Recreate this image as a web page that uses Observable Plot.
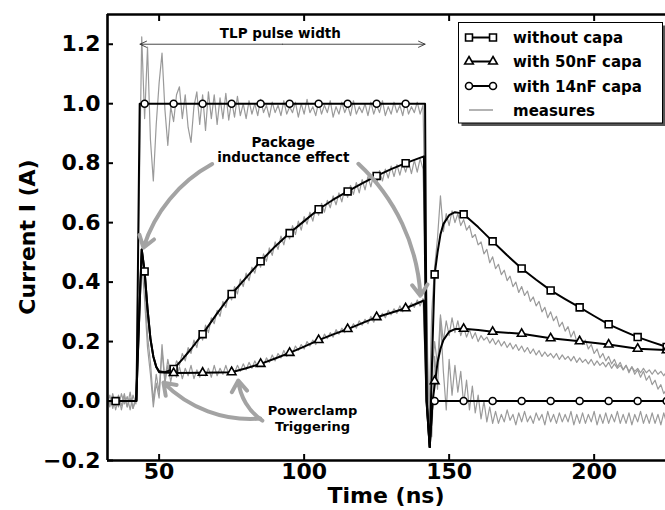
<!DOCTYPE html>
<html><head><meta charset="utf-8">
<script src="https://cdn.jsdelivr.net/npm/d3@7"></script>
<script src="https://cdn.jsdelivr.net/npm/@observablehq/plot@0.6"></script>
<style>
html,body{margin:0;padding:0;background:#fff;}
#chart{width:665px;height:510px;}
</style></head><body><div id="chart"></div>
<script>
// ---------- Data ----------
const seriesNames = ["without capa", "with 50nF capa", "with 14nF capa", "measures"];
const xTicks = [50, 100, 150, 200];
const yTicks = [-0.2, 0, 0.2, 0.4, 0.6, 0.8, 1.0, 1.2];

// simulation: without capa
const simNoCapT = [32, 42.1, 43.2, 44, 45, 46, 47, 48, 49, 50, 52, 55, 58, 61, 65, 70, 75, 80, 85, 90, 95, 100, 105, 110, 115, 120, 125, 130, 135, 141.3, 142.2, 143.3, 144.3, 145, 146, 147, 148, 150, 152, 154, 155, 160, 165, 170, 175, 180, 185, 190, 195, 200, 205, 210, 215, 220, 225];
const simNoCapV = [0, 0, 0.3, 0.51, 0.436, 0.31, 0.21, 0.15, 0.115, 0.1, 0.097, 0.108, 0.14, 0.175, 0.225, 0.295, 0.36, 0.415, 0.47, 0.52, 0.565, 0.605, 0.645, 0.677, 0.705, 0.732, 0.757, 0.78, 0.8, 0.823, 0.0, -0.155, 0.2, 0.426, 0.5, 0.56, 0.595, 0.625, 0.635, 0.632, 0.628, 0.585, 0.537, 0.49, 0.446, 0.408, 0.372, 0.343, 0.315, 0.286, 0.258, 0.236, 0.215, 0.198, 0.182];
const markNoCapT = [35, 45, 55, 65, 75, 85, 95, 105, 115, 125, 135, 145, 155, 165, 175, 185, 195, 205, 215, 225];
const markNoCapV = [0, 0.436, 0.108, 0.225, 0.36, 0.47, 0.565, 0.645, 0.705, 0.757, 0.8, 0.426, 0.628, 0.537, 0.446, 0.372, 0.315, 0.258, 0.215, 0.182];

// simulation: with 50nF capa
const sim50T = [32, 42.1, 43.2, 44, 45, 46, 47, 48, 49, 50, 55, 65, 75, 80, 85, 90, 95, 100, 105, 110, 115, 120, 125, 130, 135, 141.3, 142.2, 143.3, 144.3, 145.2, 146, 147, 148, 150, 152, 155, 160, 165, 175, 185, 195, 205, 215, 225];
const sim50V = [0, 0, 0.3, 0.51, 0.436, 0.31, 0.21, 0.15, 0.115, 0.097, 0.094, 0.095, 0.097, 0.11, 0.125, 0.143, 0.162, 0.183, 0.205, 0.224, 0.242, 0.262, 0.282, 0.297, 0.312, 0.338, 0.0, -0.155, 0.0, 0.067, 0.13, 0.175, 0.205, 0.233, 0.242, 0.243, 0.239, 0.233, 0.226, 0.211, 0.201, 0.19, 0.176, 0.171];
const mark50T = [55, 65, 75, 85, 95, 105, 115, 125, 135, 145, 155, 165, 175, 185, 195, 205, 215, 225];
const mark50V = [0.094, 0.095, 0.097, 0.125, 0.162, 0.205, 0.242, 0.282, 0.312, 0.067, 0.243, 0.233, 0.226, 0.211, 0.201, 0.19, 0.176, 0.171];

// simulation: with 14nF capa
const sim14T = [32, 42.2, 43.3, 141.7, 142.3, 143.3, 144.3, 225];
const sim14V = [0, 0, 1.0, 1.0, 0.0, -0.155, 0.0, 0];
const mark14T = [45, 55, 65, 75, 85, 95, 105, 115, 125, 135, 145, 155, 165, 175, 185, 195, 205, 215, 225];
const mark14V = [1, 1, 1, 1, 1, 1, 1, 1, 1, 1, 0, 0, 0, 0, 0, 0, 0, 0, 0];

// measurements, one sample per ns starting at 32 ns
const measStartT = 32;
const meas14 = [
  0.01, -0.02, 0.025, -0.015, 0.02, -0.03, 0.015, -0.02, 0.03, -0.025, 0.005,
  0.6, 1.225, 0.95, 1.19, 0.88, 0.74, 0.93, 1.07, 1.17, 0.98, 0.86, 0.99, 0.94, 1.03, 1.057, 0.95, 1.03, 0.92, 0.87, 0.99,
  1.04, 0.93, 1.03, 0.91, 1.04, 0.95, 1.03, 0.93, 1.02, 0.95, 1.035, 0.945, 1.01, 0.955, 1.025, 0.96, 1.0, 0.95,
  1.01, 0.965, 1.0, 0.96, 1.015, 0.97, 0.995, 0.955, 1.005, 0.97,
  0.995, 0.96, 1.01, 0.965, 0.99, 0.97, 1.005, 0.955, 1.0, 0.965,
  1.015, 0.97, 0.99, 0.96, 1.005, 0.965, 0.995, 0.97, 1.01, 0.955,
  0.99, 0.965, 1.005, 0.97, 0.995, 0.96, 1.01, 0.965, 0.99, 0.97,
  1.0, 0.96, 1.005, 0.965, 0.995, 0.97, 1.01, 0.96, 0.99, 0.965,
  1.005, 0.97, 0.995, 0.96, 1.01, 0.965, 0.99, 0.97, 1.005, 0.965,
  0.995,
  0.45, -0.05, -0.12, 0.15, 0.04, 0.28, 0.1, -0.03, 0.14, 0.02, 0.12, 0.03, 0.1, -0.01, 0.07, -0.03, 0.05, -0.04, 0.02, -0.06, 0.0, -0.07, -0.02, -0.075,
  -0.035, -0.075, -0.045, -0.07, -0.03, -0.065, -0.045, -0.08, -0.04, -0.07,
  -0.035, -0.07, -0.05, -0.075, -0.04, -0.065, -0.045, -0.08, -0.035, -0.07,
  -0.045, -0.075, -0.04, -0.07, -0.045, -0.07, -0.035, -0.08, -0.045, -0.075,
  -0.04, -0.075, -0.045, -0.07, -0.035, -0.08, -0.045, -0.075, -0.04, -0.075,
  -0.045, -0.07, -0.035, -0.075, -0.045, -0.075, -0.04, -0.08, -0.045, -0.07,
  -0.035, -0.075, -0.045, -0.075, -0.04, -0.075, -0.045, -0.08, -0.04, -0.075
];
const measNoCap = [
  -0.015, 0.02, -0.025, 0.01, -0.02, 0.025, -0.01, 0.015, -0.03, 0.02, -0.01,
  0.3, 0.5, 0.4, 0.22, 0.13, 0.0, 0.09, 0.03, 0.19, 0.07, 0.14, 0.09,
  0.095, 0.135, 0.12, 0.16, 0.135, 0.18, 0.16, 0.205, 0.18, 0.23,
  0.205, 0.255, 0.23, 0.28, 0.26, 0.305, 0.285, 0.335, 0.315, 0.36,
  0.34, 0.385, 0.36, 0.41, 0.385, 0.43, 0.405, 0.45, 0.43, 0.475,
  0.45, 0.495, 0.47, 0.515, 0.49, 0.535, 0.51, 0.555, 0.525, 0.57,
  0.545, 0.59, 0.56, 0.605, 0.575, 0.62, 0.595, 0.635, 0.605, 0.65,
  0.625, 0.665, 0.635, 0.675, 0.65, 0.69, 0.66, 0.7, 0.67, 0.715,
  0.685, 0.725, 0.695, 0.735, 0.7, 0.745, 0.71, 0.755, 0.72, 0.765,
  0.73, 0.775, 0.74, 0.78, 0.75, 0.79, 0.755, 0.795, 0.76, 0.8,
  0.77, 0.805, 0.765, 0.81, 0.77, 0.815, 0.78,
  0.35, -0.08, 0.3, 0.45, 0.55, 0.69, 0.57, 0.63, 0.59, 0.64, 0.6, 0.63, 0.59, 0.61,
  0.575, 0.59, 0.55, 0.56, 0.525, 0.535, 0.495, 0.51, 0.465, 0.485,
  0.445, 0.46, 0.425, 0.44, 0.405, 0.42, 0.385, 0.4, 0.365, 0.385,
  0.355, 0.37, 0.335, 0.35, 0.32, 0.335, 0.3, 0.315, 0.28, 0.3,
  0.27, 0.285, 0.25, 0.265, 0.235, 0.25, 0.215, 0.235, 0.2, 0.22,
  0.19, 0.205, 0.175, 0.19, 0.16, 0.175, 0.145, 0.16, 0.135, 0.15,
  0.125, 0.14, 0.115, 0.13, 0.105, 0.12, 0.095, 0.115, 0.09, 0.105,
  0.08, 0.1, 0.07, 0.085, 0.055, 0.07, 0.04, 0.055, 0.025, 0.04
];
const meas50 = [
  0.02, -0.01, 0.015, -0.03, 0.01, -0.015, 0.025, -0.02, 0.01, -0.025, 0.015,
  0.32, 0.47, 0.34, 0.18, 0.09, -0.02, 0.06, 0.01, 0.17, 0.06, 0.12, 0.065,
  0.11, 0.08, 0.115, 0.075, 0.11, 0.085, 0.12, 0.075, 0.105, 0.08,
  0.115, 0.085, 0.11, 0.08, 0.12, 0.085, 0.11, 0.09, 0.12, 0.09,
  0.115, 0.095, 0.12, 0.1, 0.125, 0.105, 0.13, 0.11, 0.135, 0.115,
  0.14, 0.12, 0.145, 0.13, 0.155, 0.135, 0.16, 0.145, 0.17, 0.15,
  0.175, 0.16, 0.185, 0.17, 0.19, 0.175, 0.2, 0.185, 0.205, 0.19,
  0.215, 0.2, 0.225, 0.21, 0.23, 0.215, 0.24, 0.225, 0.245, 0.23,
  0.255, 0.24, 0.26, 0.245, 0.27, 0.255, 0.275, 0.26, 0.285, 0.265,
  0.29, 0.275, 0.295, 0.28, 0.305, 0.29, 0.31, 0.295, 0.32, 0.3,
  0.325, 0.31, 0.33, 0.315, 0.34, 0.32, 0.345,
  0.05, -0.1, 0.08, 0.2, 0.12, 0.29, 0.2, 0.27, 0.22, 0.28, 0.23, 0.27, 0.22, 0.25,
  0.215, 0.24, 0.21, 0.23, 0.2, 0.22, 0.205, 0.215, 0.195, 0.21,
  0.19, 0.205, 0.185, 0.2, 0.18, 0.195, 0.175, 0.19, 0.17, 0.185,
  0.165, 0.18, 0.16, 0.175, 0.155, 0.17, 0.15, 0.165, 0.15, 0.16,
  0.145, 0.16, 0.14, 0.155, 0.14, 0.15, 0.135, 0.15, 0.13, 0.145,
  0.13, 0.14, 0.125, 0.14, 0.12, 0.135, 0.12, 0.13, 0.115, 0.13,
  0.11, 0.125, 0.11, 0.12, 0.105, 0.12, 0.1, 0.115, 0.1, 0.11,
  0.095, 0.11, 0.095, 0.105, 0.09, 0.105, 0.09, 0.1, 0.085, 0.1
];

// annotations
const pulseLabel = [{t: 91.8, v: 1.234, text: "TLP pulse width"}];
const pulseArrow = [{mid: 92.5, t1: 43.4, t2: 141.7, v: 1.2}];
const pkgLabel = [
  {t: 92.8, v: 0.87, text: "Package"},
  {t: 92.8, v: 0.818, text: "inductance effect"}
];
const pkgArrowLeft = [{t1: 68.3, v1: 0.797, t2: 44.6, v2: 0.516}];
const pkgArrowRight = [{t1: 118.7, v1: 0.798, t2: 140.1, v2: 0.354}];
const clampLabel = [
  {t: 102.9, v: -0.033, text: "Powerclamp"},
  {t: 102.9, v: -0.087, text: "Triggering"}
];
const clampArrows = [
  {t1: 84.9, v1: -0.059, t2: 51.5, v2: 0.062},
  {t1: 85.6, v1: -0.066, t2: 77.3, v2: 0.069}
];

// ---------- Build ----------
const zip = (T, V) => T.map((t, i) => ({t, v: V[i]}));
const meas = (V) => V.map((v, i) => ({t: measStartT + i, v}));
const xDomain = [32.2, 224.6];
const yDomain = [-0.2, 1.3];
const GRAY = "#9a9a9a";
const ARROW_GRAY = "#a3a3a3";

const chart = Plot.plot({
  width: 665, height: 510,
  marginLeft: 107, marginRight: 0, marginTop: 14, marginBottom: 50,
  style: {fontFamily: "DejaVu Sans", fontWeight: "bold", background: "white"},
  x: {domain: xDomain},
  y: {domain: yDomain},
  marks: [
    // measurements
    Plot.line(meas(meas14), {x: "t", y: "v", stroke: GRAY, strokeWidth: 1.2, clip: true}),
    Plot.line(meas(meas50), {x: "t", y: "v", stroke: GRAY, strokeWidth: 1.2, clip: true}),
    Plot.line(meas(measNoCap), {x: "t", y: "v", stroke: GRAY, strokeWidth: 1.2, clip: true}),
    // simulations
    Plot.line(zip(simNoCapT, simNoCapV), {x: "t", y: "v", stroke: "black", strokeWidth: 2, clip: true}),
    Plot.line(zip(sim50T, sim50V), {x: "t", y: "v", stroke: "black", strokeWidth: 2, clip: true}),
    Plot.line(zip(sim14T, sim14V), {x: "t", y: "v", stroke: "black", strokeWidth: 2, clip: true}),
    Plot.dot(zip(markNoCapT, markNoCapV), {x: "t", y: "v", symbol: "square", r: 3.9, fill: "white", stroke: "black", strokeWidth: 1.6}),
    Plot.dot(zip(mark50T, mark50V), {x: "t", y: "v", symbol: "triangle", r: 3.2, fill: "white", stroke: "black", strokeWidth: 1.6}),
    Plot.dot(zip(mark14T, mark14V), {x: "t", y: "v", symbol: "circle", r: 3.5, fill: "white", stroke: "black", strokeWidth: 1.6}),
    // annotation arrows
    Plot.arrow(pulseArrow, {x1: "mid", y1: "v", x2: "t1", y2: "v", stroke: "#333", strokeWidth: 0.9, headLength: 12, headAngle: 50}),
    Plot.arrow(pulseArrow, {x1: "mid", y1: "v", x2: "t2", y2: "v", stroke: "#333", strokeWidth: 0.9, headLength: 12, headAngle: 50}),
    Plot.arrow(pkgArrowLeft, {x1: "t1", y1: "v1", x2: "t2", y2: "v2", bend: -22, stroke: ARROW_GRAY, strokeWidth: 4, headLength: 5, headAngle: 70}),
    Plot.arrow(pkgArrowRight, {x1: "t1", y1: "v1", x2: "t2", y2: "v2", bend: 22, stroke: ARROW_GRAY, strokeWidth: 4, headLength: 5, headAngle: 70}),
    Plot.arrow(clampArrows, {x1: "t1", y1: "v1", x2: "t2", y2: "v2", bend: 25, stroke: ARROW_GRAY, strokeWidth: 4, headLength: 5, headAngle: 70}),
    // annotation texts
    Plot.text(pulseLabel, {x: "t", y: "v", text: "text", fontSize: 13.5, fontWeight: "bold", fill: "black"}),
    Plot.text(pkgLabel, {x: "t", y: "v", text: "text", fontSize: 13.5, fontWeight: "bold", fill: "black"}),
    Plot.text(clampLabel, {x: "t", y: "v", text: "text", fontSize: 13, fontWeight: "bold", fill: "black"}),
    // axes
    Plot.axisX({anchor: "bottom", ticks: xTicks, tickSize: -6, tickPadding: 9, strokeWidth: 2, fontSize: 22, label: null}),
    Plot.axisX({anchor: "top", ticks: xTicks, tickSize: -6, strokeWidth: 2, tickFormat: () => "", label: null}),
    Plot.axisY({anchor: "left", ticks: yTicks, tickSize: -6, tickPadding: 13, strokeWidth: 2, fontSize: 22, tickFormat: d3.format(".1f"), label: null}),
    // frame (left, top, bottom)
    Plot.ruleX([xDomain[0]], {stroke: "black", strokeWidth: 2.6}),
    Plot.ruleY([yDomain[0]], {stroke: "black", strokeWidth: 2.6}),
    Plot.ruleY([yDomain[1]], {stroke: "black", strokeWidth: 2.6})
  ]
});

document.getElementById("chart").appendChild(chart);

// ---------- Axis labels & legend ----------
const svg = d3.select(chart);
svg.append("text")
  .attr("x", 386).attr("y", 503)
  .attr("text-anchor", "middle")
  .attr("font-family", "DejaVu Sans").attr("font-weight", "bold").attr("font-size", 22)
  .text("Time (ns)");
svg.append("text")
  .attr("transform", "translate(35,237) rotate(-90)")
  .attr("text-anchor", "middle")
  .attr("font-family", "DejaVu Sans").attr("font-weight", "bold").attr("font-size", 22)
  .text("Current I (A)");

const lg = svg.append("g");
lg.append("rect").attr("x", 461.5).attr("y", 25.5).attr("width", 204).attr("height", 100.5).attr("fill", "#555");
lg.append("rect").attr("x", 458.5).attr("y", 22.5).attr("width", 204).attr("height", 100.5)
  .attr("fill", "white").attr("stroke", "black").attr("stroke-width", 1);
const symbols = [d3.symbolSquare, d3.symbolTriangle, d3.symbolCircle, null];
const symR = [3.9, 3.2, 3.5, 0];
const rowY = [37.5, 61.5, 86, 110];
seriesNames.forEach((name, i) => {
  const y = rowY[i];
  const isMeas = symbols[i] === null;
  lg.append("line").attr("x1", 469).attr("x2", 493).attr("y1", y).attr("y2", y)
    .attr("stroke", isMeas ? GRAY : "black").attr("stroke-width", isMeas ? 1.5 : 2);
  if (!isMeas) {
    [469, 493].forEach(x => {
      lg.append("path")
        .attr("d", d3.symbol(symbols[i], Math.PI * symR[i] * symR[i])())
        .attr("transform", `translate(${x},${y})`)
        .attr("fill", "white").attr("stroke", "black").attr("stroke-width", 1.6);
    });
  }
  lg.append("text").attr("x", 513).attr("y", y + 5.5)
    .attr("text-anchor", "start")
    .attr("font-family", "DejaVu Sans").attr("font-weight", "bold").attr("font-size", 15)
    .text(name);
});
</script>
</body></html>
